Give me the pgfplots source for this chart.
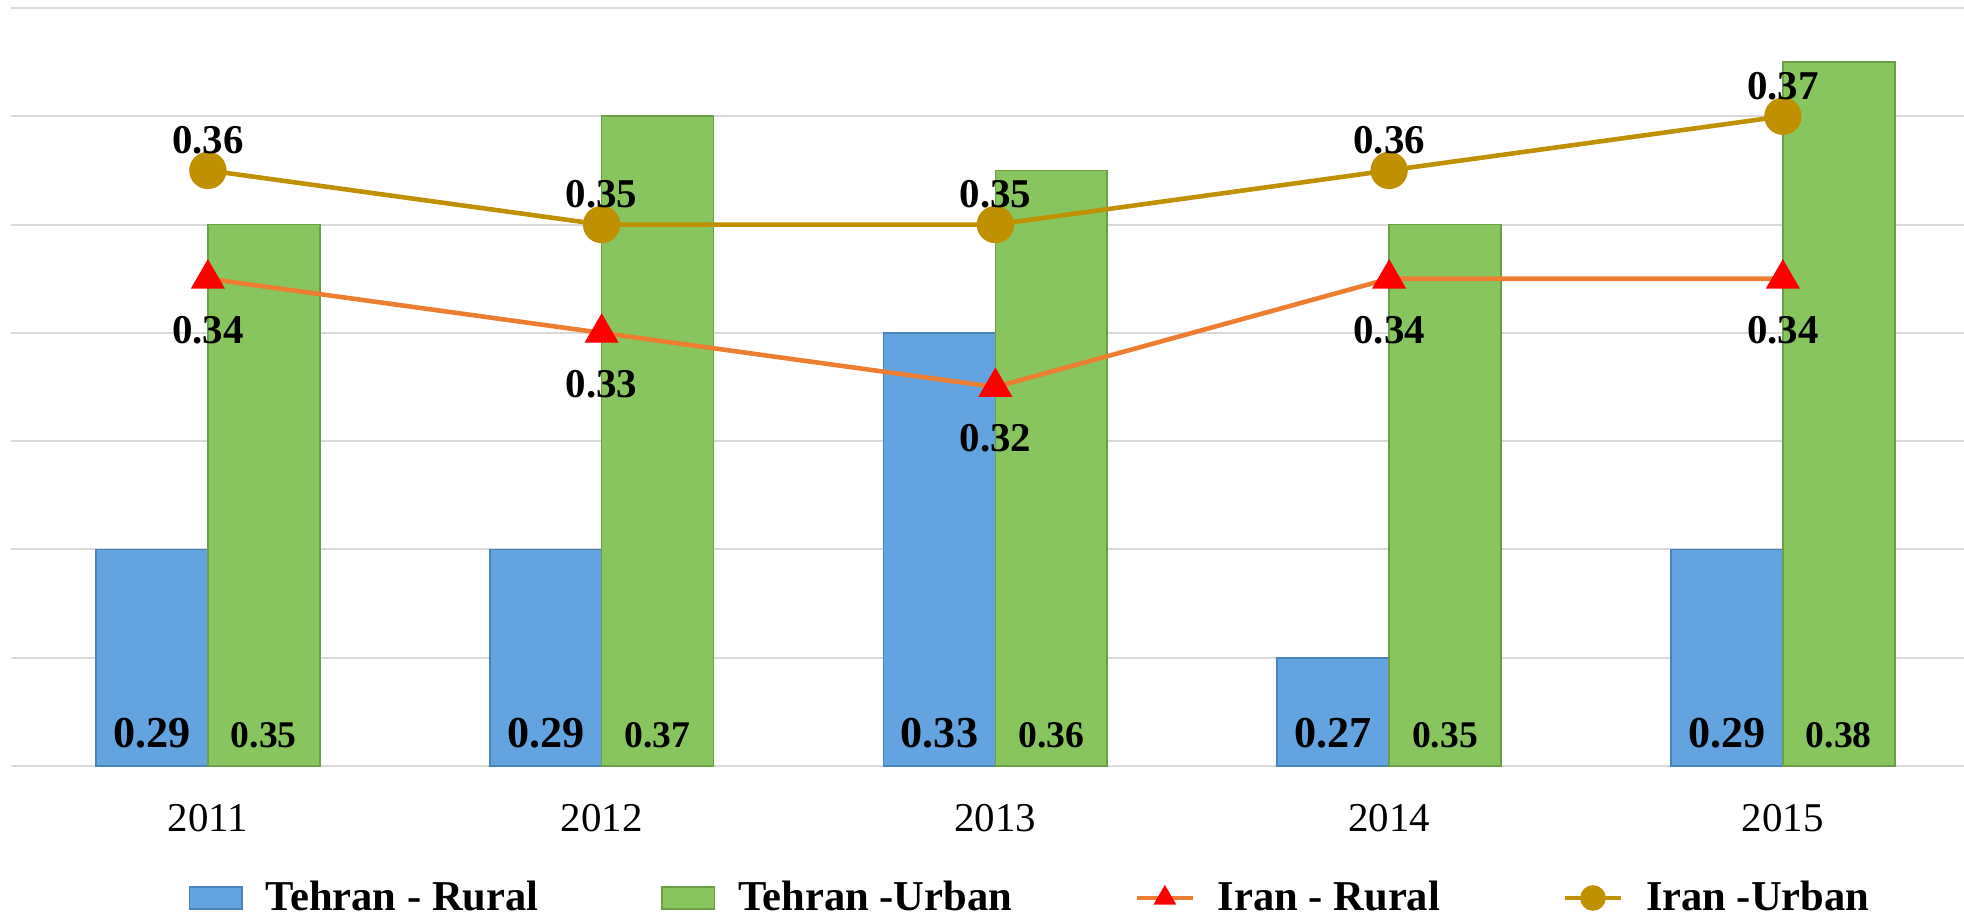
\documentclass[border=0pt]{standalone}
\usepackage{pgfplots}
\pgfplotsset{compat=1.18}
\usepackage{fontspec}
\setmainfont{Liberation Serif}
\definecolor{tblue}{HTML}{62A3E0}
\definecolor{tblueedge}{HTML}{4A82BA}
\definecolor{tgreen}{HTML}{88C55E}
\definecolor{tgreenedge}{HTML}{6C9E48}
\definecolor{iorange}{HTML}{ED7D31}
\definecolor{igold}{HTML}{BF9000}
\definecolor{gridgray}{HTML}{D9D9D9}
\pgfplotsset{
  barlegend/.style={legend image code/.code={\draw[##1] (0pt,-3.3pt) rectangle (16pt,3.3pt);}},
  linelegend/.style={legend image code/.code={\draw[mark repeat=2,mark phase=2,##1,mark size=#1] plot coordinates {(0pt,0pt) (8.5pt,0pt) (17pt,0pt)};}},
  barlabel/.style 2 args={point meta=y, visualization depends on={y \as \rawy},
    nodes near coords={\pgfmathprintnumber[fixed, precision=2, fixed zerofill]{\pgfplotspointmeta}},
    every node near coord/.append style={anchor=base, xshift=#2, yshift={(0.25-\rawy)*1654.3pt+5.8pt},
      font=\bfseries\fontsize{#1}{13}\selectfont, text=black}},
}
\begin{document}
\begin{tikzpicture}
\begin{axis}[
  name=ax, at={(0,0)}, anchor=south west,
  scale only axis, width=596.64pt, height=231.6pt,
  xmin=-0.5, xmax=4.46, ymin=0.25, ymax=0.39,
  xtick={0,1,2,3,4}, xticklabels={2011,2012,2013,2014,2015},
  ytick={0.25,0.27,0.29,0.31,0.33,0.35,0.37,0.39}, yticklabels={},
  ymajorgrids, grid style={gridgray, line width=0.6pt},
  axis line style={draw=none}, major tick length=0pt,
  xticklabel style={font=\fontsize{12.5}{14}\selectfont, yshift=-8pt},
  /pgf/number format/assume math mode=true,
  legend columns=4,
  legend style={at={(0.5230,-0.174)}, anchor=center, draw=none, fill=none,
    font=\bfseries\fontsize{13}{15}\selectfont,
    /tikz/every even column/.append style={column sep=35.5pt},
    /tikz/every odd column/.append style={column sep=5pt}},
]
\addplot[ybar, bar width=0.284, bar shift=-0.142, fill=tblue, draw=tblueedge, line width=0.5pt,
  barlabel={13.5}{-17.08pt}, barlegend
] coordinates {(0,0.29) (1,0.29) (2,0.33) (3,0.27) (4,0.29)};
\addlegendentry{Tehran - Rural}
\addplot[ybar, bar width=0.284, bar shift=0.142, fill=tgreen, draw=tgreenedge, line width=0.5pt,
  barlabel={11.5}{17.08pt}, barlegend
] coordinates {(0,0.35) (1,0.37) (2,0.36) (3,0.35) (4,0.38)};
\addlegendentry{Tehran -Urban}
\addplot[iorange, line width=1.4pt, mark=triangle*, mark size=5.6pt,
  mark options={fill=red, draw=red, line width=0.4pt},
  point meta=y, linelegend=3.6pt,
  nodes near coords={\pgfmathprintnumber[fixed, precision=2, fixed zerofill]{\pgfplotspointmeta}},
  every node near coord/.append style={anchor=north, yshift=-8pt,
    font=\bfseries\fontsize{12.5}{14}\selectfont, text=black}
] coordinates {(0,0.34) (1,0.33) (2,0.32) (3,0.34) (4,0.34)};
\addlegendentry{Iran - Rural}
\addplot[igold, line width=1.4pt, mark=*, mark size=5pt,
  mark options={fill=igold, draw=igold},
  point meta=y, linelegend=3.2pt,
  nodes near coords={\pgfmathprintnumber[fixed, precision=2, fixed zerofill]{\pgfplotspointmeta}},
  every node near coord/.append style={anchor=south, yshift=1pt,
    font=\bfseries\fontsize{12.5}{14}\selectfont, text=black}
] coordinates {(0,0.36) (1,0.35) (2,0.35) (3,0.36) (4,0.37)};
\addlegendentry{Iran -Urban}
\end{axis}
\pgfresetboundingbox
\path (-3.36pt,-46pt) rectangle (596.64pt,234.04pt);
\end{tikzpicture}
\end{document}
